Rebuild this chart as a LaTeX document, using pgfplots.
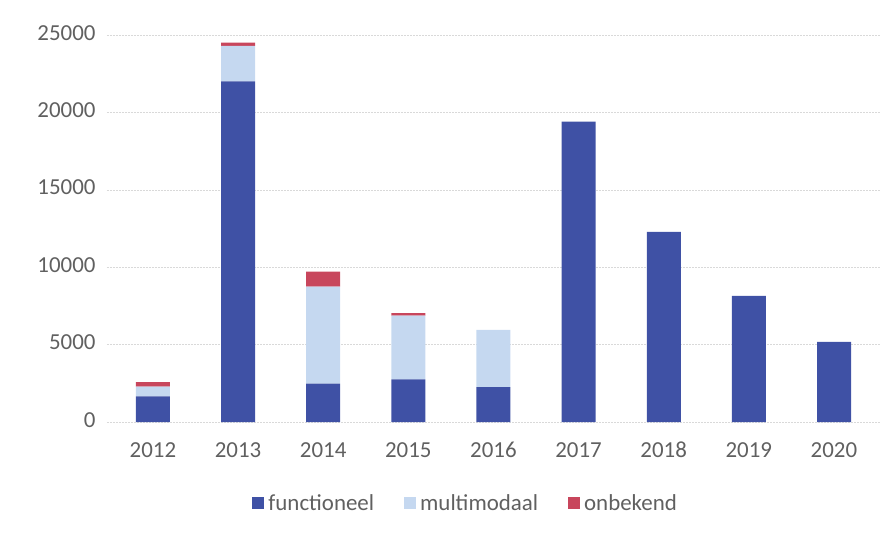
\documentclass[border=0pt]{standalone}
\usepackage{fontspec}
\setmainfont{Carlito}
\usepackage{pgfplots}
\pgfplotsset{compat=1.18}

\definecolor{func}{RGB}{63,81,165}
\definecolor{multi}{RGB}{197,216,240}
\definecolor{onb}{RGB}{200,70,92}
\definecolor{txt}{RGB}{96,96,96}

\begin{document}
\begin{tikzpicture}
  \useasboundingbox (-107bp,-114bp) rectangle (789bp,422bp);
  \begin{axis}[
    scale only axis,
    width=773bp, height=387bp,
    ybar stacked,
    bar width=34bp,
    xmin=2011.46, xmax=2020.54,
    ymin=0, ymax=25000,
    xtick={2012,...,2020},
    ytick={0,5000,...,25000},
    scaled y ticks=false,
    /pgf/number format/1000 sep={},
    /pgf/number format/assume math mode=true,
    tick label style={font=\fontsize{23}{26}\selectfont, text=txt},
    typeset ticklabels with strut,
    xticklabel style={yshift=-14bp},
    yticklabel style={xshift=-8bp},
    axis line style={draw=none},
    major tick length=0pt,
    ymajorgrids,
    grid style={gray!30, dash pattern=on 2bp off 1bp},
    legend style={at={(0.464,-0.21)}, anchor=center, draw=none,
      font=\fontsize{23}{26}\selectfont, text=txt,
      legend columns=-1,
      /tikz/every odd column/.append style={column sep=2bp},
      /tikz/every even column/.append style={column sep=28bp}},
    legend image code/.code={\fill[#1] (0bp,-6bp) rectangle (12bp,6bp);},
  ]
    \addplot[fill=func, draw=none] coordinates {
      (2012,1650) (2013,22000) (2014,2480) (2015,2760) (2016,2250)
      (2017,19400) (2018,12280) (2019,8140) (2020,5180)};
    \addplot[fill=multi, draw=none] coordinates {
      (2012,630) (2013,2290) (2014,6260) (2015,4110) (2016,3700)
      (2017,0) (2018,0) (2019,0) (2020,0)};
    \addplot[fill=onb, draw=none] coordinates {
      (2012,290) (2013,210) (2014,970) (2015,160) (2016,0)
      (2017,0) (2018,0) (2019,0) (2020,0)};
    \legend{functioneel, multimodaal, onbekend}
  \end{axis}
\end{tikzpicture}
\end{document}
